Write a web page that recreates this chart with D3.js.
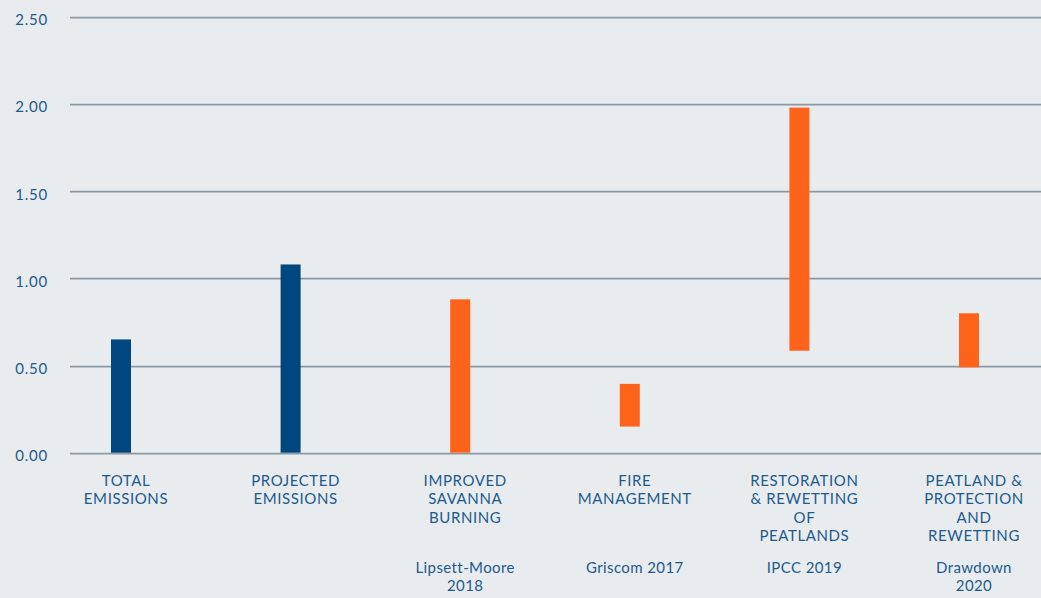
<!DOCTYPE html>
<html><head><meta charset="utf-8">
<script src="https://cdn.jsdelivr.net/npm/d3@7"></script>
<style>
html,body{margin:0;padding:0;background:#e8ecef;}
svg{display:block;}
text{font-family:Lato,"Open Sans",sans-serif;}
</style></head>
<body><svg id="c" width="1041" height="598"></svg>
<script>
const categories = ["TOTAL EMISSIONS","PROJECTED EMISSIONS","IMPROVED SAVANNA BURNING","FIRE MANAGEMENT","RESTORATION & REWETTING OF PEATLANDS","PEATLAND & PROTECTION AND REWETTING"];
const labelLines = [["TOTAL","EMISSIONS"],["PROJECTED","EMISSIONS"],["IMPROVED","SAVANNA","BURNING"],["FIRE","MANAGEMENT"],["RESTORATION","& REWETTING","OF","PEATLANDS"],["PEATLAND &","PROTECTION","AND","REWETTING"]];
const sources = [[],[],["Lipsett-Moore","2018"],["Griscom 2017"],["IPCC 2019"],["Drawdown","2020"]];
const lowValues  = [0, 0, 0, 0.15, 0.585, 0.49];
const highValues = [0.65, 1.08, 0.88, 0.395, 1.98, 0.80];
const seriesType = ["emissions","emissions","solution","solution","solution","solution"];
const yTicks = [0, 0.5, 1.0, 1.5, 2.0, 2.5];

const svg = d3.select("#c");
const colors = {emissions:"#00467f", solution:"#ff6319"};
const textColor = "#1d5a8d";
const y = d3.scaleLinear().domain([0,2.5]).range([452.7,17]);
const x = d3.scaleBand().domain(categories).range([36.2,1053.8]).padding(0);
const barW = 20;

// grid
const grid = svg.append("g");
grid.selectAll("line.s").data(yTicks).join("line")
  .attr("x1",70).attr("x2",1041)
  .attr("y1",d=>Math.round(y(d))+1.5).attr("y2",d=>Math.round(y(d))+1.5)
  .attr("stroke","#c9d1d6").attr("stroke-width",1);
grid.selectAll("line.g").data(yTicks).join("line")
  .attr("x1",70).attr("x2",1041)
  .attr("y1",d=>Math.round(y(d))+0.5).attr("y2",d=>Math.round(y(d))+0.5)
  .attr("stroke","#8a9aa4").attr("stroke-width",1.3);

// y axis labels
const yAxis = d3.axisLeft(y).tickValues(yTicks).tickFormat(d3.format(".2f")).tickSize(0).tickPadding(0);
const ya = svg.append("g").attr("transform","translate(48,3)").call(yAxis);
ya.select(".domain").remove();
ya.selectAll("text").attr("fill",textColor).style("font-size","15px").style("letter-spacing","0.8px").style("font-family","Lato, sans-serif");

// bars
svg.append("g").selectAll("rect").data(categories).join("rect")
  .attr("x",(d)=>x(d)+x.bandwidth()/2-barW/2)
  .attr("width",barW)
  .attr("y",(d,i)=>y(highValues[i]))
  .attr("height",(d,i)=>y(lowValues[i])-y(highValues[i]))
  .attr("fill",(d,i)=>colors[seriesType[i]]);

// category labels
const lab = svg.append("g");
categories.forEach((c,i)=>{
  const cx = x(c)+x.bandwidth()/2+5;
  const t = lab.append("text").attr("x",cx).attr("y",485.5).attr("text-anchor","middle")
    .attr("fill",textColor).style("font-size","15px").style("letter-spacing","0.6px");
  labelLines[i].forEach((l,j)=>t.append("tspan").attr("x",cx).attr("dy",j?18.5:0).text(l));
  const s = lab.append("text").attr("x",cx).attr("y",572.5).attr("text-anchor","middle")
    .attr("fill",textColor).style("font-size","15px").style("letter-spacing","0.4px");
  sources[i].forEach((l,j)=>s.append("tspan").attr("x",cx).attr("dy",j?18:0).text(l));
});
</script></body></html>
